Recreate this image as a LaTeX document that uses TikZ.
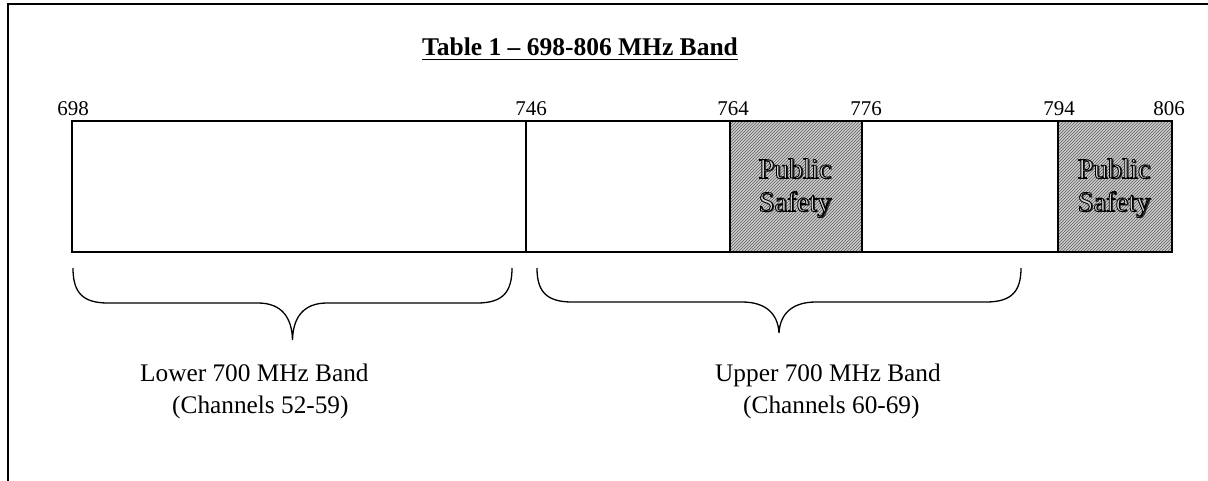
\documentclass[tikz,border=0pt]{standalone}
\usepackage{fontspec}
\setmainfont{Liberation Serif}
\usetikzlibrary{patterns}
\tikzset{
  num/.style={font=\fontsize{21}{24}\selectfont, inner sep=0pt, anchor=base},
  seg/.style={draw, line width=2.4pt, minimum height=131pt, inner sep=0pt, outer sep=0pt},
  hatched/.style={seg, preaction={fill=gray!40}, pattern=north east lines, pattern color=gray!75!black},
  ps/.style={font=\fontsize{28.5}{33}\selectfont, align=center, inner sep=0pt},
  bandlbl/.style={font=\fontsize{25.3}{30}\selectfont, inner sep=0pt, anchor=base west},
  brace/.style={line width=1.3pt},
}
\newcommand\outl[1]{\special{pdf:literal direct 0 G 2 Tr 0.9 w}#1\special{pdf:literal direct 0 Tr}}
\newcommand\outlinetext[4]{% name, x, y, text
  \node[ps, text=black!85, xshift=1.6pt, yshift=-1.6pt] (#1sh) at (#2,#3) {#4};
  \node[ps, text=gray!35] (#1) at (#2,#3) {\outl{#4}};
}
\begin{document}
\begin{tikzpicture}[x=1pt,y=-1pt]
\useasboundingbox (0,0) rectangle (1208,480);
% outer frame (only left and top edges visible)
\draw[line width=1.8pt] (8,500) -- (8,4) -- (1230,4);
% title
\node[font=\bfseries\fontsize{25.5}{30}\selectfont, inner sep=0pt, anchor=base] (title) at (580,55) {Table 1 -- 698-806 MHz Band};
\draw[line width=1.6pt] ([yshift=-4.5pt]title.base west) -- ([yshift=-4.5pt]title.base east);
% frequency ticks
\node[num] (f698) at (73,115) {698};
\node[num] (f746) at (531,115) {746};
\node[num] (f764) at (733,115) {764};
\node[num] (f776) at (866,115) {776};
\node[num] (f794) at (1059,115) {794};
\node[num] (f806) at (1169,115) {806};
% band segments
\node[seg, minimum width=454pt] (s1) at (299,186.5) {};
\node[seg, minimum width=204pt] (s2) at (628,186.5) {};
\node[hatched, minimum width=132pt] (s3) at (796,186.5) {};
\node[seg, minimum width=196pt] (s4) at (960,186.5) {};
\node[hatched, minimum width=114pt] (s5) at (1115,186.5) {};
% public safety labels
\outlinetext{ps1}{795}{188}{Public\\Safety}
\outlinetext{ps2}{1114}{188}{Public\\Safety}
% braces
\draw[brace] (73,268) .. controls (73,292) and (82,303) .. (108,303) -- (258,303)
  .. controls (282,303) and (292,318) .. (292.5,340)
  .. controls (293,318) and (303,303) .. (327,303) -- (477,303)
  .. controls (503,303) and (512,292) .. (512,268);
\draw[brace] (537,268) .. controls (537,291) and (546,302) .. (572,302) -- (742,302)
  .. controls (766,302) and (778,314) .. (779,333)
  .. controls (780,314) and (792,302) .. (816,302) -- (986,302)
  .. controls (1012,302) and (1021,291) .. (1021,268);
% band labels
\node[bandlbl] (lowA) at (140,381) {Lower 700 MHz Band};
\node[bandlbl] (lowB) at (172,413) {(Channels 52-59)};
\node[bandlbl] (upA) at (715,381) {Upper 700 MHz Band};
\node[bandlbl] (upB) at (743,413) {(Channels 60-69)};
\end{tikzpicture}
\end{document}
